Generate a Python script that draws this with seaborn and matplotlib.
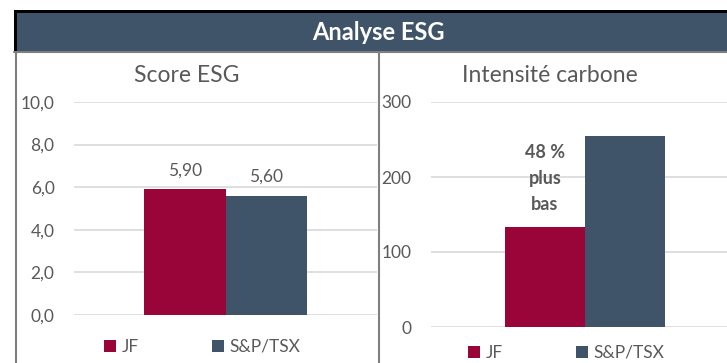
import numpy as np
import pandas as pd
import matplotlib.pyplot as plt
import seaborn as sns
from matplotlib.patches import Rectangle
from matplotlib.lines import Line2D

#################### DATA ####################
series = ['JF', 'S&P/TSX']
score_esg = [5.90, 5.60]
intensite_carbone = [133, 255]
score_ticks = [0, 2, 4, 6, 8, 10]
carbone_ticks = [0, 100, 200, 300]
note_carbone = '48 %\nplus\nbas'

#################### STYLE ####################
sns.set_theme(style='white')
plt.rcParams['font.family'] = ['Lato', 'DejaVu Sans']

W, H = 727, 363
red = '#990538'
navy = '#3F5468'
grey_txt = '#595959'
grid_col = '#D9D9D9'
palette = {'JF': red, 'S&P/TSX': navy}


def fx(px):
    return px / W


def fy(py):
    return 1 - py / H


fig = plt.figure(figsize=(W / 100, H / 100), dpi=100)

# header band
fig.patches.append(Rectangle((fx(14), fy(52)), fx(727 - 14), (52 - 10) / H,
                             transform=fig.transFigure, facecolor='black', edgecolor='none'))
fig.patches.append(Rectangle((fx(17), fy(51)), fx(727 - 17), (51 - 13) / H,
                             transform=fig.transFigure, facecolor=navy, edgecolor='none'))
fig.text(fx(378), fy(32), 'Analyse ESG', color='white', fontsize=17, fontweight='bold',
         ha='center', va='center')

# panel borders
fig.add_artist(Line2D([fx(14), 1], [fy(52), fy(52)], color='#7F7F7F', lw=1.5, transform=fig.transFigure))
fig.add_artist(Line2D([fx(15.5), fx(15.5)], [fy(52), 0], color='#7F7F7F', lw=1.5, transform=fig.transFigure))
fig.add_artist(Line2D([fx(379), fx(379)], [fy(52), 0], color='#7F7F7F', lw=1.5, transform=fig.transFigure))


def panel(rect, values, ticks, title, title_x, legend_xy, xlim, fmt):
    ax = fig.add_axes(rect)
    df = pd.DataFrame({'groupe': [''] * len(series), 'serie': series, 'valeur': values})
    sns.barplot(data=df, x='groupe', y='valeur', hue='serie', palette=palette,
                width=0.54, saturation=1, linewidth=0, ax=ax)
    ax.set_ylim(ticks[0], ticks[-1])
    ax.set_xlim(*xlim)
    ax.set_yticks(ticks)
    ax.set_yticklabels([fmt(t) for t in ticks], color=grey_txt, fontsize=12.5)
    ax.tick_params(axis='y', length=0, pad=14)
    ax.set_xticks([])
    ax.set_xlabel('')
    ax.set_ylabel('')
    ax.grid(axis='y', color=grid_col, lw=1.2)
    ax.set_axisbelow(True)
    for s in ax.spines.values():
        s.set_visible(False)
    ax.patch.set_alpha(0)
    handles, labels = ax.get_legend_handles_labels()
    ax.legend_.remove()
    fig.legend(handles, labels, loc='center', bbox_to_anchor=legend_xy, ncol=2, frameon=False,
               handlelength=0.7, handleheight=0.7, handletextpad=0.3, columnspacing=4.2,
               fontsize=12.5, labelcolor=grey_txt)
    fig.text(title_x, fy(75), title, color=grey_txt, fontsize=16.5, ha='center', va='center')
    return ax


ax1 = panel([fx(74), fy(315), fx(377 - 74), (315 - 102) / H], score_esg, score_ticks,
            'Score ESG', fx(187), (fx(202), fy(347)), (-0.5, 0.5),
            lambda t: f'{t:.1f}'.replace('.', ','))
for bars in ax1.containers:
    ax1.bar_label(bars, labels=[f'{b.get_height():.2f}'.replace('.', ',') for b in bars],
                  padding=8, color=grey_txt, fontsize=12.5)

ax2 = panel([fx(431), fy(327), fx(727 - 431), (327 - 102) / H], intensite_carbone, carbone_ticks,
            'Intensité carbone', fx(550), (fx(566), fy(353)), (-0.52, 0.48),
            lambda t: f'{t:d}')
jf_bar = ax2.containers[0][0]
ax2.annotate(note_carbone, xy=(jf_bar.get_x() + jf_bar.get_width() / 2, jf_bar.get_height()),
             xytext=(0, 35), textcoords='offset points', ha='center', va='center',
             fontsize=13, fontweight='bold', color=grey_txt, linespacing=1.65)

fig.savefig('out.png', dpi=100)
